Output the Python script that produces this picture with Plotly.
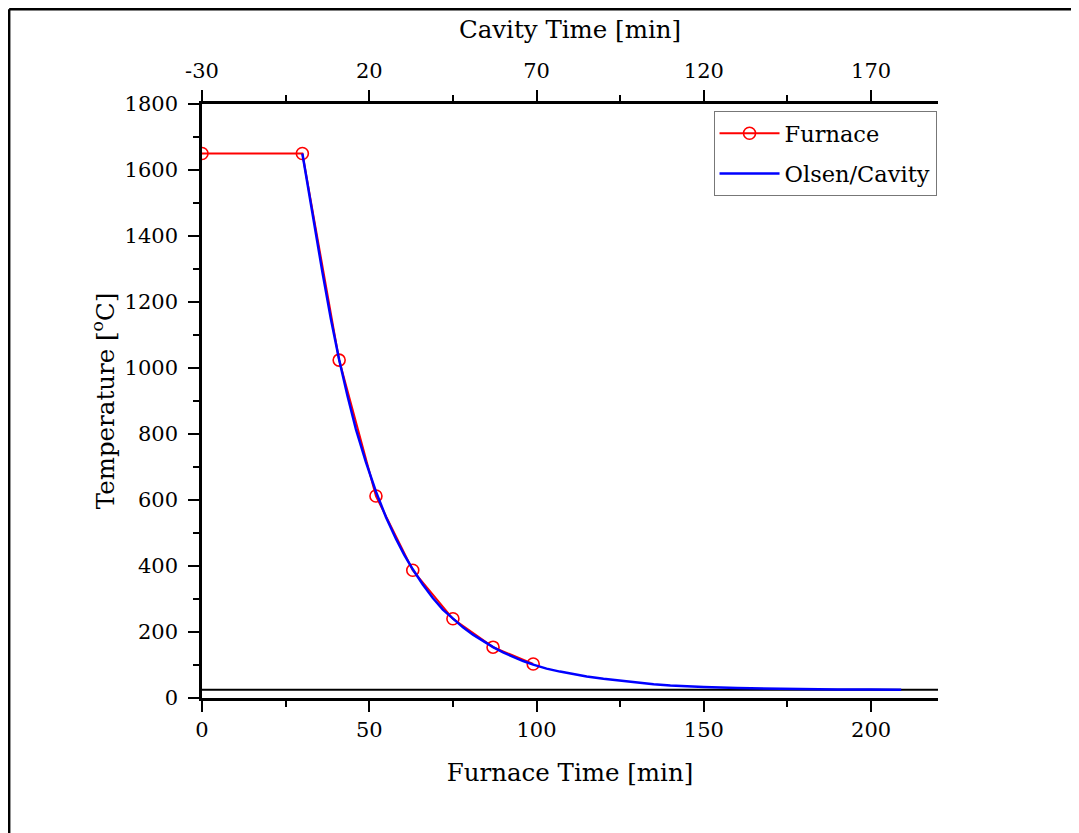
import plotly.graph_objects as go

# Data
furnace_time = [0, 30, 41, 52, 63, 75, 87, 99]
furnace_temp = [1650, 1650, 1024, 612, 387, 240, 154, 103]

olsen_time = [30, 33, 36, 38.5, 41, 43.5, 46, 49, 52, 55, 58, 60.5, 63, 66,
              69, 72, 75, 78, 81, 84, 87, 90, 93, 96, 99, 103, 107, 111, 115,
              120, 125, 130, 135, 140, 145, 150, 160, 170, 180, 190, 200, 209]
olsen_temp = [1650, 1465, 1290, 1150, 1025, 915, 815, 715, 625, 548, 482, 433,
              390, 344, 303, 268, 240, 214, 192, 172, 154, 138, 124, 112, 101,
              89, 80, 72, 65, 58, 52, 46, 42, 38, 35, 33, 30, 28, 27, 26,
              25.5, 25]

ambient_temp = 25
cavity_offset = 30  # cavity time = furnace time - 30
cavity_ticks = [-30, 20, 70, 120, 170]

x_range = [0, 220]
y_range = [0, 1800]

FONT = "DejaVu Serif"

fig = go.Figure()

# ambient reference line
fig.add_trace(go.Scatter(
    x=x_range, y=[ambient_temp, ambient_temp], mode="lines",
    line=dict(color="black", width=2), showlegend=False, hoverinfo="skip"))

fig.add_trace(go.Scatter(
    x=furnace_time, y=furnace_temp, mode="lines+markers", name="Furnace",
    legendgroup="furnace",
    line=dict(color="#ff0000", width=2),
    marker=dict(symbol="circle-open", size=12, color="#ff0000",
                line=dict(width=1.6, color="#ff0000"))))

fig.add_trace(go.Scatter(
    x=olsen_time, y=olsen_temp, mode="lines", name="Olsen/Cavity",
    legendgroup="olsen",
    line=dict(color="#0000ff", width=2.5)))

# invisible trace for the cavity-time (top) axis
fig.add_trace(go.Scatter(
    x=[t - cavity_offset for t in olsen_time], y=olsen_temp, xaxis="x2",
    mode="lines", line=dict(width=0), opacity=0, showlegend=False,
    hoverinfo="skip"))

axis_common = dict(
    showgrid=False, zeroline=False, showline=True, linecolor="black",
    linewidth=2.5, ticks="outside", tickcolor="black", tickwidth=2,
    ticklen=11, tickfont=dict(family=FONT, size=21, color="black"))

minor = dict(ticklen=6, tickwidth=2, tickcolor="black", ticks="outside")

fig.update_layout(
    width=1071, height=825,
    paper_bgcolor="white", plot_bgcolor="white",
    margin=dict(l=194, r=141, t=96, b=135),
    font=dict(family=FONT, color="black"),
    xaxis=dict(
        **axis_common, range=x_range, tick0=0, dtick=50,
        minor=dict(tick0=0, dtick=25, **minor),
        title=dict(text="Furnace Time [min]",
                   font=dict(family=FONT, size=24.5, color="black"),
                   standoff=23)),
    xaxis2=dict(
        **axis_common, overlaying="x", side="top",
        range=[x_range[0] - cavity_offset, x_range[1] - cavity_offset],
        tickmode="array", tickvals=cavity_ticks,
        ticktext=[str(v) for v in cavity_ticks], ticklabelstandoff=4,
        minor=dict(tickmode="linear", tick0=-5, dtick=50, **minor),
        title=dict(text="Cavity Time [min]",
                   font=dict(family=FONT, size=24.5, color="black"),
                   standoff=14)),
    yaxis=dict(
        **axis_common, range=y_range, tick0=0, dtick=200,
        ticklabelstandoff=6,
        minor=dict(tick0=0, dtick=100, **minor),
        title=dict(text="Temperature [<sup>o</sup>C]",
                   font=dict(family=FONT, size=24.5, color="black"),
                   standoff=4)),
    legend=dict(
        x=0.998, y=0.988, xanchor="right", yanchor="top",
        bgcolor="white", bordercolor="#777777", borderwidth=1,
        font=dict(family=FONT, size=22.5, color="black"),
        itemwidth=60, tracegroupgap=8),
    shapes=[
        dict(type="line", xref="paper", yref="paper",
             x0=-0.262, x1=1.25, y0=1.1596, y1=1.1596,
             line=dict(color="black", width=2.5)),
        dict(type="line", xref="paper", yref="paper",
             x0=-0.262, x1=-0.262, y0=-0.25, y1=1.1596,
             line=dict(color="black", width=2.5)),
    ],
)

fig.write_html("out.html")
